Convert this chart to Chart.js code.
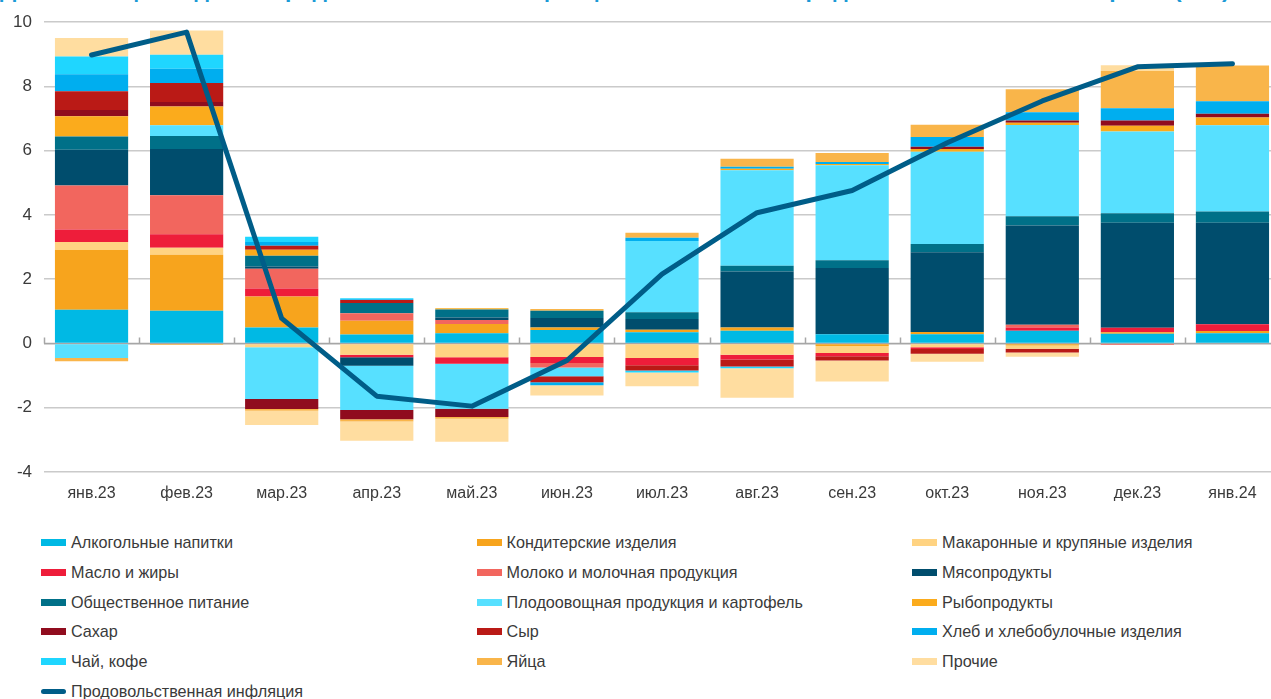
<!DOCTYPE html>
<html lang="ru">
<head>
<meta charset="utf-8">
<title>Продовольственная инфляция</title>
<script src="https://cdn.jsdelivr.net/npm/chart.js@4.4.1/dist/chart.umd.min.js"></script>
<style>
  html, body { margin: 0; padding: 0; background: #fff; overflow: hidden; width: 1271px; height: 699px; }
  body { position: relative; font-family: "Liberation Sans", Arial, sans-serif; }
  #titulo { position: absolute; left: 0; top: -25px; white-space: nowrap; color: #1b9ad6; font-weight: bold; font-size: 24px; line-height: 28px; }
  #chart-box { position: absolute; left: 0; top: 0; width: 1290px; height: 520px; }
  #leyenda { position: absolute; left: 41px; top: 528px; width: 1310px; display: grid; grid-template-columns: 435.5px 435.5px 435.5px; grid-auto-rows: 29.7px; }
  .ley-item { display: flex; align-items: center; font-size: 16.2px; color: #3a3a3a; white-space: nowrap; }
  .ley-mark { width: 25px; height: 7px; margin-right: 5px; flex: none; }
  .ley-line { width: 25px; height: 5px; border-radius: 3px; margin-right: 5px; flex: none; }
</style>
</head>
<body>
<div id="titulo">Декомпозиция годовой продовольственной инфляции по основным продовольственным категориям (п.п.)</div>
<div id="chart-box"><canvas id="canvas-inflacion" width="1290" height="520"></canvas></div>
<div id="leyenda"></div>
<script>
/* ============================================================
   Вклад категорий в годовую продовольственную инфляцию (п.п.)
   ============================================================ */

var meses = ['янв.23', 'фев.23', 'мар.23', 'апр.23', 'май.23', 'июн.23', 'июл.23', 'авг.23', 'сен.23', 'окт.23', 'ноя.23', 'дек.23', 'янв.24'];

var alkogol     = [1.05, 1.02, 0.50, 0.28, 0.32, 0.42, 0.35, 0.40, 0.29, 0.29, 0.40, 0.30, 0.32];
var konditer    = [1.86, 1.74, 0.96, 0.43, 0.29, 0.08, 0.08, 0.10, -0.08, 0.07, -0.06, 0.05, 0.07];
var makarony    = [0.25, 0.22, -0.12, -0.35, -0.43, -0.42, -0.45, -0.35, -0.22, -0.12, -0.10, 0, 0];
var maslo       = [0.39, 0.42, 0.25, -0.08, -0.20, -0.19, -0.23, -0.15, -0.10, -0.05, 0.10, 0.14, 0.21];
var moloko      = [1.37, 1.21, 0.62, 0.23, 0.12, -0.14, 0, 0, 0, 0, 0.08, -0.05, 0];
var myaso       = [1.11, 1.44, 0.07, -0.26, 0.08, 0.29, 0.33, 1.74, 2.06, 2.48, 3.09, 3.27, 3.16];
var obshchepit  = [0.41, 0.41, 0.33, 0.32, 0.25, 0.23, 0.21, 0.18, 0.24, 0.26, 0.29, 0.29, 0.35];
var plodoovosch = [-0.45, 0.33, -1.61, -1.38, -1.40, -0.27, 2.22, 2.97, 2.96, 2.87, 2.84, 2.55, 2.68];
var ryba        = [0.63, 0.59, 0.19, 0, 0.04, 0, 0, 0.05, 0.04, 0.08, 0.07, 0.18, 0.24];
var sahar       = [0.20, 0.14, -0.31, -0.29, -0.26, 0, 0, 0, 0, 0.07, 0.07, 0.16, 0.12];
var syr         = [0.58, 0.59, 0.12, 0.09, 0, -0.19, -0.16, -0.22, -0.13, -0.15, -0.12, 0, 0];
var hleb        = [0.53, 0.44, 0.12, 0.03, 0, -0.09, 0.10, 0.06, 0.06, 0.31, 0.26, 0.38, 0.39];
var chay        = [0.55, 0.44, 0.16, 0.03, 0, 0, -0.06, -0.05, 0, 0, 0, 0, 0];
var yaytsa      = [-0.10, -0.05, -0.05, -0.07, -0.05, 0.05, 0.16, 0.25, 0.28, 0.38, 0.71, 1.16, 1.11];
var prochie     = [0.58, 0.75, -0.45, -0.60, -0.72, -0.32, -0.43, -0.92, -0.65, -0.25, -0.13, 0.18, 0];

var inflyatsiya = [8.98, 9.69, 0.78, -1.64, -1.95, -0.53, 2.16, 4.07, 4.76, 6.25, 7.55, 8.61, 8.71];

var yTicks = [-4, -2, 0, 2, 4, 6, 8, 10];

var series = [
  { label: 'Алкогольные напитки', data: alkogol, color: '#00b9e4' },
  { label: 'Кондитерские изделия', data: konditer, color: '#f7a41d' },
  { label: 'Макаронные и крупяные изделия', data: makarony, color: '#ffd382' },
  { label: 'Масло и жиры', data: maslo, color: '#ee1d3a' },
  { label: 'Молоко и молочная продукция', data: moloko, color: '#f2665e' },
  { label: 'Мясопродукты', data: myaso, color: '#004d6d' },
  { label: 'Общественное питание', data: obshchepit, color: '#007088' },
  { label: 'Плодоовощная продукция и картофель', data: plodoovosch, color: '#57e0ff' },
  { label: 'Рыбопродукты', data: ryba, color: '#fbab1c' },
  { label: 'Сахар', data: sahar, color: '#900c1e' },
  { label: 'Сыр', data: syr, color: '#ba1a16' },
  { label: 'Хлеб и хлебобулочные  изделия', data: hleb, color: '#00aeef' },
  { label: 'Чай, кофе', data: chay, color: '#1fd6ff' },
  { label: 'Яйца', data: yaytsa, color: '#f9b54a' },
  { label: 'Прочие', data: prochie, color: '#ffdda0' }
];
var lineColor = '#005d88';

// ==============================================
// Title width (only the lower edge shows, as in the source)
// ==============================================
var tit = document.getElementById('titulo');
var w = tit.getBoundingClientRect().width;
if (w > 0) tit.style.fontSize = (24 * 1230 / w).toFixed(2) + 'px';

// ==============================================
// Zero axis with category ticks
// ==============================================
var zeroAxis = {
  id: 'zeroAxis',
  beforeDatasetsDraw: function(chart) {
    var ctx = chart.ctx, x = chart.scales.x, y = chart.scales.y;
    var y0 = Math.round(y.getPixelForValue(0)) + 0.5;
    var step = x.getPixelForValue(1) - x.getPixelForValue(0);
    ctx.save();
    ctx.strokeStyle = '#a6a6a6';
    ctx.lineWidth = 1.5;
    ctx.beginPath();
    ctx.moveTo(chart.chartArea.left, y0);
    ctx.lineTo(chart.chartArea.right, y0);
    for (var i = 0; i <= meses.length; i++) {
      var xp = Math.round(x.getPixelForValue(i) - step / 2) + 0.5;
      ctx.moveTo(xp, y0);
      ctx.lineTo(xp, y0 - 6);
    }
    ctx.stroke();
    ctx.restore();
  }
};

// ==============================================
// Chart
// ==============================================
var datasets = [{
  type: 'line',
  label: 'Продовольственная инфляция',
  data: inflyatsiya,
  borderColor: lineColor,
  backgroundColor: lineColor,
  borderWidth: 5,
  borderCapStyle: 'round',
  borderJoinStyle: 'round',
  pointRadius: 0,
  tension: 0,
  stack: 'linea',
  order: 0
}];
for (var i = 0; i < series.length; i++) {
  datasets.push({
    type: 'bar',
    label: series[i].label,
    data: series[i].data,
    backgroundColor: series[i].color,
    borderWidth: 0,
    stack: 'barras',
    barPercentage: 0.77,
    categoryPercentage: 1,
    order: 1
  });
}

var ctx = document.getElementById('canvas-inflacion').getContext('2d');
var grafico = new Chart(ctx, {
  data: { labels: meses, datasets: datasets },
  options: {
    responsive: false,
    animation: false,
    layout: { padding: { top: 20, right: 10, left: 0, bottom: 0 } },
    plugins: { legend: { display: false }, tooltip: { enabled: false } },
    scales: {
      x: {
        stacked: true,
        grid: { display: false },
        border: { display: false },
        ticks: { color: '#3a3a3a', font: { family: '"Liberation Sans", Arial', size: 16 }, padding: 4, maxRotation: 0, autoSkip: false },
        afterFit: function(s) { s.height = 48; }
      },
      y: {
        stacked: true,
        min: -4,
        max: 10,
        afterBuildTicks: function(s) { s.ticks = yTicks.map(function(v) { return { value: v }; }); },
        grid: { color: '#cacaca', lineWidth: 1.5, drawTicks: false },
        border: { display: false },
        ticks: { color: '#3a3a3a', font: { family: '"Liberation Sans", Arial', size: 17 }, padding: 12 },
        afterFit: function(s) { s.width = 44; }
      }
    }
  },
  plugins: [zeroAxis]
});

// ==============================================
// Legend (3 columns)
// ==============================================
var leyHtml = '';
for (var k = 0; k < series.length; k++) {
  leyHtml += '<div class="ley-item"><span class="ley-mark" style="background:' + series[k].color + '"></span>' + series[k].label + '</div>';
}
leyHtml += '<div class="ley-item"><span class="ley-line" style="background:' + lineColor + '"></span>Продовольственная инфляция</div>';
document.getElementById('leyenda').innerHTML = leyHtml;
</script>
</body>
</html>
